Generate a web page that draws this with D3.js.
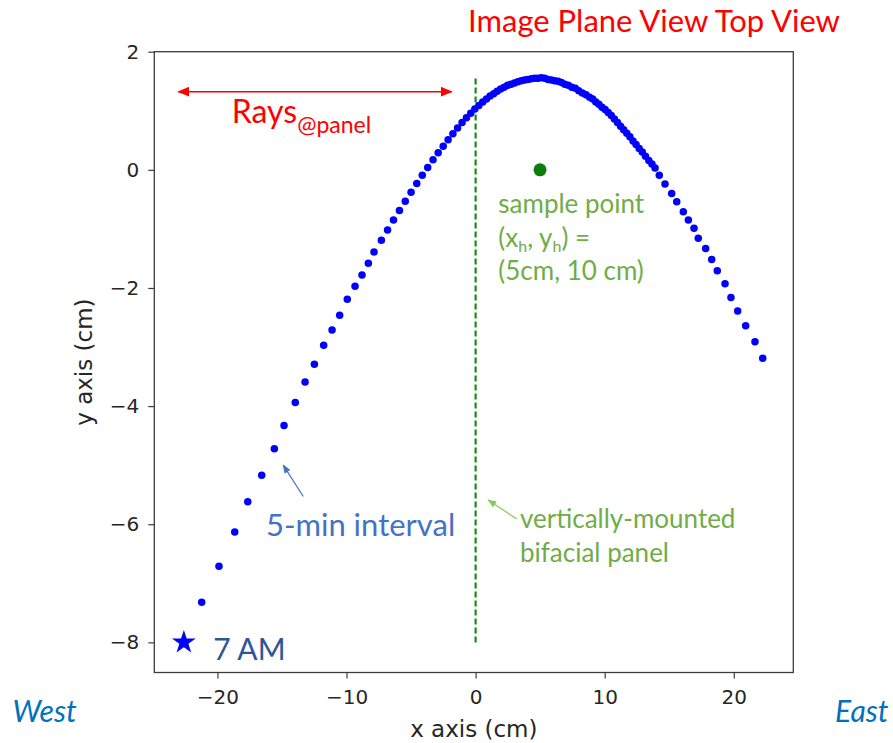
<!DOCTYPE html>
<html>
<head>
<meta charset="utf-8">
<script src="https://cdn.jsdelivr.net/npm/d3@7"></script>
<style>
  html, body { margin: 0; padding: 0; background: #fff; }
  svg { display: block; }
</style>
</head>
<body>
<script>
// Ray hit points on the image plane, one every 5 minutes after 7 AM (cm)
const rayX = [-21.22, -19.88, -18.66, -17.65, -16.57, -15.59, -14.84, -13.97, -13.21, -12.49,
  -11.77, -11.12, -10.53, -9.94, -9.34, -8.80, -8.31, -7.87, -7.30, -6.82,
  -6.36, -5.90, -5.45, -5.00, -4.56, -4.13, -3.71, -3.30, -2.90, -2.51,
  -2.13, -1.76, -1.40, -1.05, -0.71, -0.38, -0.06, 0.25, 0.55, 0.84,
  1.12, 1.40, 1.67, 1.94, 2.21, 2.48, 2.75, 3.01, 3.27, 3.53,
  3.79, 4.05, 4.31, 4.57, 4.83, 5.09, 5.35, 5.61, 5.87, 6.13,
  6.39, 6.65, 6.91, 7.18, 7.45, 7.72, 7.99, 8.27, 8.55, 8.83,
  9.07, 9.31, 9.55, 9.79, 10.03, 10.27, 10.51, 10.75, 10.99, 11.23,
  11.47, 11.71, 11.95, 12.19, 12.43, 12.67, 12.91, 13.16, 13.42, 13.66,
  13.90, 14.23, 14.67, 15.19, 15.58, 16.09, 16.48, 16.92, 17.25, 17.82,
  18.29, 18.72, 19.32, 19.78, 20.30, 20.92, 21.64, 22.24];
const rayY = [-7.32, -6.71, -6.13, -5.62, -5.17, -4.72, -4.33, -3.94, -3.59, -3.29,
  -2.97, -2.71, -2.46, -2.19, -1.97, -1.78, -1.58, -1.39, -1.19, -1.02,
  -0.85, -0.69, -0.53, -0.38, -0.23, -0.09, 0.04, 0.17, 0.29, 0.40,
  0.51, 0.61, 0.71, 0.80, 0.88, 0.96, 1.03, 1.09, 1.15, 1.20,
  1.25, 1.29, 1.33, 1.37, 1.40, 1.43, 1.45, 1.47, 1.49, 1.51,
  1.52, 1.53, 1.54, 1.55, 1.55, 1.56, 1.55, 1.53, 1.52, 1.51,
  1.50, 1.48, 1.45, 1.43, 1.40, 1.38, 1.34, 1.30, 1.27, 1.23,
  1.20, 1.15, 1.11, 1.06, 1.02, 0.97, 0.92, 0.86, 0.80, 0.74,
  0.68, 0.62, 0.56, 0.49, 0.43, 0.36, 0.30, 0.23, 0.16, 0.10,
  0.03, -0.09, -0.24, -0.40, -0.54, -0.71, -0.85, -0.99, -1.16, -1.33,
  -1.52, -1.71, -1.93, -2.16, -2.39, -2.64, -2.91, -3.19];

// 7 AM start (star)
const startX = -22.6;
const startY = -8.0;

// Sample point (green dot)
const sampleX = 4.99;
const sampleY = 0;

// Vertically-mounted panel (dashed line)
const panelX = [0, 0];
const panelY = [-8, 1.55];

// Axis ticks
const xTicks = [-20, -10, 0, 10, 20];
const yTicks = [2, 0, -2, -4, -6, -8];

const width = 893;
const height = 743;
const plot = { left: 154.3, right: 793.3, top: 51.7, bottom: 672.5 };
const axisColor = "#3c3c3c";
const textColor = "#262626";
const noteFont = "Lato, 'Open Sans', sans-serif";
const axisFont = "'DejaVu Sans', sans-serif";

// Create scales
const xScale = d3
  .scaleLinear()
  .domain([-24.89, 24.61])
  .range([plot.left, plot.right]);

const yScale = d3
  .scaleLinear()
  .domain([-8.51, 2.0])
  .range([plot.bottom, plot.top]);

// Create SVG container
const svg = d3
  .select("body")
  .append("svg")
  .attr("width", width)
  .attr("height", height)
  .style("background", "#fff");

const defs = svg.append("defs");

// Filled triangle arrow heads
function addArrowHead(id, color, len, wid) {
  defs
    .append("marker")
    .attr("id", id)
    .attr("markerUnits", "userSpaceOnUse")
    .attr("viewBox", `0 0 ${len} ${wid}`)
    .attr("markerWidth", len)
    .attr("markerHeight", wid)
    .attr("refX", len - 1)
    .attr("refY", wid / 2)
    .attr("orient", "auto-start-reverse")
    .append("path")
    .attr("d", `M0,0L${len},${wid / 2}L0,${wid}Z`)
    .attr("fill", color);
}
addArrowHead("headRed", "#ff0000", 12, 10);
addArrowHead("headBlue", "#4472c4", 9, 7);
addArrowHead("headGreen", "#8cc85a", 9, 7);

// Text with subscripts: parts are strings or {sub: "..."}
function richText(sel, parts, subSize, subShift) {
  let shifted = false;
  parts.forEach((p) => {
    const t = sel.append("tspan");
    if (typeof p === "string") {
      t.text(p).attr("dy", shifted ? -subShift : 0);
      shifted = false;
    } else {
      t.text(p.sub)
        .attr("font-size", subSize)
        .attr("dy", shifted ? 0 : subShift);
      shifted = true;
    }
  });
}

// Add axes frame
svg
  .append("rect")
  .attr("x", plot.left)
  .attr("y", plot.top)
  .attr("width", plot.right - plot.left)
  .attr("height", plot.bottom - plot.top)
  .attr("fill", "none")
  .attr("stroke", axisColor)
  .attr("stroke-width", 1.3);

// Create x-axis
svg
  .append("g")
  .attr("transform", `translate(0, ${plot.bottom})`)
  .call(d3.axisBottom(xScale).tickValues(xTicks).tickSize(6).tickPadding(11).tickSizeOuter(0))
  .call((g) => g.select(".domain").remove())
  .call((g) => g.selectAll("line").attr("stroke", axisColor).attr("stroke-width", 1.2))
  .call((g) =>
    g.selectAll("text").attr("font-family", axisFont).attr("font-size", 20).attr("fill", textColor)
  );

// Create y-axis
svg
  .append("g")
  .attr("transform", `translate(${plot.left}, 0)`)
  .call(d3.axisLeft(yScale).tickValues(yTicks).tickSize(6).tickPadding(9).tickSizeOuter(0))
  .call((g) => g.select(".domain").remove())
  .call((g) => g.selectAll("line").attr("stroke", axisColor).attr("stroke-width", 1.2))
  .call((g) =>
    g.selectAll("text").attr("font-family", axisFont).attr("font-size", 20).attr("fill", textColor)
  );

// Add x-axis label
svg
  .append("text")
  .attr("x", (plot.left + plot.right) / 2)
  .attr("y", 737)
  .attr("text-anchor", "middle")
  .attr("font-family", axisFont)
  .attr("font-size", 23)
  .attr("fill", textColor)
  .text("x axis (cm)");

// Add y-axis label
svg
  .append("text")
  .attr("transform", `translate(92, ${(plot.top + plot.bottom) / 2}) rotate(-90)`)
  .attr("text-anchor", "middle")
  .attr("font-family", axisFont)
  .attr("font-size", 23)
  .attr("fill", textColor)
  .text("y axis (cm)");

// Add panel dashed line
svg
  .append("line")
  .attr("x1", xScale(panelX[0]))
  .attr("x2", xScale(panelX[1]))
  .attr("y1", yScale(panelY[0]))
  .attr("y2", yScale(panelY[1]))
  .attr("stroke", "#1a8a1a")
  .attr("stroke-width", 2.2)
  .attr("stroke-dasharray", "6,3");

// Add ray dots
svg
  .append("g")
  .selectAll("circle")
  .data(d3.zip(rayX, rayY))
  .join("circle")
  .attr("cx", (d) => xScale(d[0]))
  .attr("cy", (d) => yScale(d[1]))
  .attr("r", 3.75)
  .attr("fill", "#0000ff");

// Add 7 AM star
svg
  .append("path")
  .attr("d", d3.symbol(d3.symbolStar, 175))
  .attr("transform", `translate(${xScale(startX)}, ${yScale(startY)})`)
  .attr("fill", "#0000ff");

// Add sample point
svg
  .append("circle")
  .attr("cx", xScale(sampleX))
  .attr("cy", yScale(sampleY))
  .attr("r", 6.5)
  .attr("fill", "#0a7d0a");

// Add title
svg
  .append("text")
  .attr("x", 654)
  .attr("y", 31.5)
  .attr("text-anchor", "middle")
  .attr("font-family", noteFont)
  .attr("font-size", 31)
  .attr("fill", "#ff0000")
  .text("Image Plane View Top View");

// Add rays double arrow
svg
  .append("line")
  .attr("x1", xScale(-23.03))
  .attr("x2", xScale(-1.85))
  .attr("y1", yScale(1.323))
  .attr("y2", yScale(1.323))
  .attr("stroke", "#ff0000")
  .attr("stroke-width", 1.6)
  .attr("marker-start", "url(#headRed)")
  .attr("marker-end", "url(#headRed)");

const rays = svg
  .append("text")
  .attr("x", xScale(-18.89))
  .attr("y", yScale(0.79))
  .attr("font-family", noteFont)
  .attr("font-size", 32)
  .attr("fill", "#ff0000");
richText(rays, ["Rays", { sub: "@panel" }], 23, 10);

// Add 7 AM label
svg
  .append("text")
  .attr("x", xScale(-20.32))
  .attr("y", yScale(-8.29))
  .attr("font-family", noteFont)
  .attr("font-size", 30)
  .attr("fill", "#2f5597")
  .text("7 AM");

// Add 5-min interval note
svg
  .append("line")
  .attr("x1", xScale(-13.35))
  .attr("y1", yScale(-5.53))
  .attr("x2", xScale(-14.9))
  .attr("y2", yScale(-5.0))
  .attr("stroke", "#4472c4")
  .attr("stroke-width", 1.2)
  .attr("marker-end", "url(#headBlue)");

svg
  .append("text")
  .attr("x", xScale(-16.24))
  .attr("y", yScale(-6.2))
  .attr("font-family", noteFont)
  .attr("font-size", 31)
  .attr("fill", "#4472c4")
  .text("5-min interval");

// Add sample point note
const sampleLines = [
  ["sample point"],
  ["(x", { sub: "h" }, ", y", { sub: "h" }, ") ="],
  ["(5cm, 10 cm)"],
];
const sampleBase = [-0.73, -1.31, -1.86];
sampleLines.forEach((parts, i) => {
  const t = svg
    .append("text")
    .attr("x", xScale(1.76))
    .attr("y", yScale(sampleBase[i]))
    .attr("font-family", noteFont)
    .attr("font-size", 26)
    .attr("fill", "#70ad47");
  richText(t, parts, 16, 5);
});

// Add panel note
svg
  .append("line")
  .attr("x1", xScale(3.18))
  .attr("y1", yScale(-5.91))
  .attr("x2", xScale(0.98))
  .attr("y2", yScale(-5.59))
  .attr("stroke", "#8cc85a")
  .attr("stroke-width", 1.3)
  .attr("marker-end", "url(#headGreen)");

const panelLines = ["vertically-mounted", "bifacial panel"];
const panelBase = [-6.07, -6.64];
panelLines.forEach((s, i) => {
  svg
    .append("text")
    .attr("x", xScale(3.44))
    .attr("y", yScale(panelBase[i]))
    .attr("font-family", noteFont)
    .attr("font-size", 26)
    .attr("fill", "#70ad47")
    .text(s);
});

// Add compass directions
svg
  .append("text")
  .attr("x", 12.5)
  .attr("y", 721.5)
  .attr("font-family", noteFont)
  .attr("font-style", "italic")
  .attr("font-size", 30)
  .attr("fill", "#0070c0")
  .text("West");

svg
  .append("text")
  .attr("x", 888.5)
  .attr("y", 721.5)
  .attr("text-anchor", "end")
  .attr("font-family", noteFont)
  .attr("font-style", "italic")
  .attr("font-size", 30)
  .attr("fill", "#0070c0")
  .text("East");
</script>
</body>
</html>
